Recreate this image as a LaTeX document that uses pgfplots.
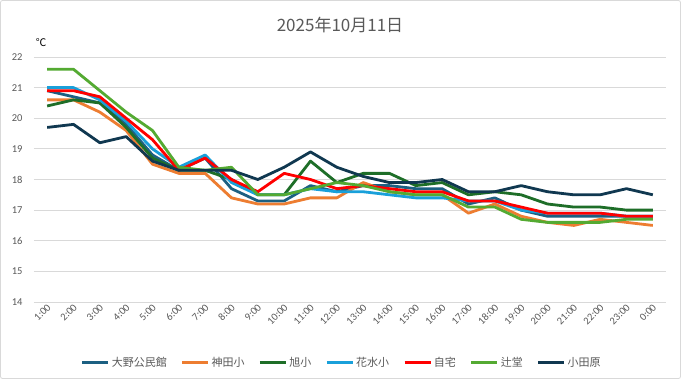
\documentclass[border=0pt]{standalone}
\usepackage{pgfplots}
\pgfplotsset{compat=1.18}
\usepackage{pgfplotstable}
\usepackage{fontspec}
\setmainfont{Carlito}
\newfontfamily\jp{Noto Sans CJK JP}
\definecolor{cOno}{RGB}{28,96,130}
\definecolor{cKanda}{RGB}{237,125,49}
\definecolor{cAsahi}{RGB}{30,110,40}
\definecolor{cHana}{RGB}{25,160,218}
\definecolor{cJitaku}{RGB}{255,0,0}
\definecolor{cTsuji}{RGB}{84,170,50}
\definecolor{cOda}{RGB}{16,56,80}
\definecolor{txt}{RGB}{89,89,89}
\definecolor{grd}{RGB}{217,217,217}
\pgfplotstableread{
x ono kanda asahi hana jitaku tsuji oda
0 20.9 20.6 20.4 21.0 20.9 21.6 19.7
1 20.7 20.6 20.6 21.0 20.9 21.6 19.8
2 20.5 20.2 20.5 20.6 20.7 20.9 19.2
3 19.8 19.6 19.7 19.9 20.0 20.2 19.4
4 18.8 18.5 18.7 19.0 19.3 19.6 18.6
5 18.3 18.2 18.3 18.4 18.3 18.4 18.3
6 18.7 18.2 18.3 18.8 18.7 18.3 18.3
7 17.7 17.4 18.0 17.9 18.0 18.4 18.3
8 17.3 17.2 17.5 17.5 17.6 17.5 18.0
9 17.3 17.2 17.5 17.5 18.2 17.5 18.4
10 17.8 17.4 18.6 17.7 18.0 17.7 18.9
11 17.6 17.4 17.9 17.6 17.7 17.9 18.4
12 17.8 17.9 18.2 17.6 17.8 17.8 18.1
13 17.8 17.6 18.2 17.5 17.7 17.6 17.9
14 17.7 17.5 17.8 17.4 17.6 17.5 17.9
15 17.7 17.5 17.9 17.4 17.6 17.5 18.0
16 17.2 16.9 17.5 17.3 17.3 17.1 17.6
17 17.4 17.2 17.6 17.3 17.3 17.1 17.6
18 17.0 16.8 17.5 17.0 17.1 16.7 17.8
19 16.8 16.6 17.2 16.9 16.9 16.6 17.6
20 16.8 16.5 17.1 16.9 16.9 16.6 17.5
21 16.8 16.7 17.1 16.9 16.9 16.6 17.5
22 16.8 16.6 17.0 16.8 16.8 16.7 17.7
23 16.8 16.5 17.0 16.8 16.8 16.7 17.5
}\data
\begin{document}
\begin{tikzpicture}[x=1pt,y=1pt]
\fill[white] (0,0) rectangle (681,379);
\draw[grd,line width=0.8pt,rounded corners=2pt] (0.5,0.5) rectangle (680.5,378.5);
\node[text=txt,font=\jp\fontsize{17}{20}\selectfont] at (340,354) {2025年10月11日};
\node[text=black,font=\jp\fontsize{10.5}{12}\selectfont] at (41,336) {℃};
\begin{axis}[
  at={(34pt,77pt)}, anchor=south west,
  scale only axis, width=632pt, height=245pt,
  xmin=-0.5, xmax=23.5, ymin=14, ymax=22,
  xtick=data,
  xticklabels={1:00,2:00,3:00,4:00,5:00,6:00,7:00,8:00,9:00,10:00,11:00,12:00,13:00,14:00,15:00,16:00,17:00,18:00,19:00,20:00,21:00,22:00,23:00,0:00},
  ytick={14,15,...,22},
  ymajorgrids, grid style={grd,line width=0.8pt},
  axis line style={draw=none},
  major tick length=0pt,
  /pgf/number format/assume math mode=true,
  tick label style={text=txt,font=\fontsize{10.5}{12}\selectfont},
  yticklabel style={xshift=-8pt},
  xticklabel style={rotate=45,anchor=east,xshift=2pt,yshift=-4pt},
  every axis plot/.append style={line width=2.8pt,no markers,line join=round},
  legend columns=7,
  legend style={at={(0.487,-0.247)},anchor=center,draw=none,fill=none,
    font=\jp\fontsize{11}{13}\selectfont,text=txt,
    /tikz/every even column/.append style={column sep=12pt}},
  legend image code/.code={\draw[#1,line width=2.8pt] (0pt,0pt) -- (26pt,0pt);},
]
\addplot[cOno] table[x=x,y=ono] {\data};
\addlegendentry{大野公民館}
\addplot[cKanda] table[x=x,y=kanda] {\data};
\addlegendentry{神田小}
\addplot[cAsahi] table[x=x,y=asahi] {\data};
\addlegendentry{旭小}
\addplot[cHana] table[x=x,y=hana] {\data};
\addlegendentry{花水小}
\addplot[cJitaku] table[x=x,y=jitaku] {\data};
\addlegendentry{自宅}
\addplot[cTsuji] table[x=x,y=tsuji] {\data};
\addlegendentry{辻堂}
\addplot[cOda] table[x=x,y=oda] {\data};
\addlegendentry{小田原}
\end{axis}
\end{tikzpicture}
\end{document}
